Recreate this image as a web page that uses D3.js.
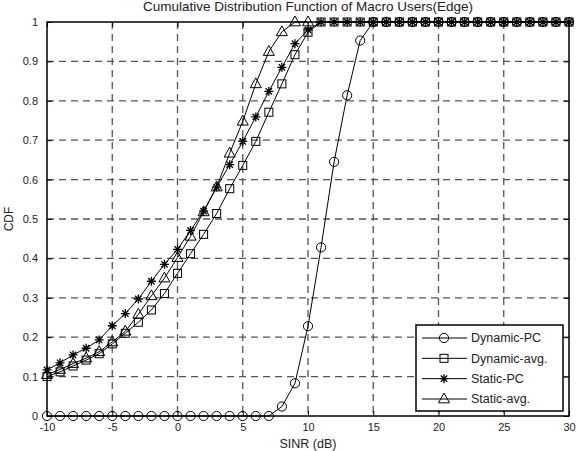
<!DOCTYPE html>
<html><head><meta charset="utf-8">
<script src="https://cdn.jsdelivr.net/npm/d3@7"></script>
<style>body{margin:0;background:#fff}svg{display:block}</style>
</head><body>
<svg id="c" width="578" height="451"></svg>
<script>
// ---- data ----
const sinr = [-10,-9,-8,-7,-6,-5,-4,-3,-2,-1,0,1,2,3,4,5,6,7,8,9,10,11,12,13,14,15,16,17,18,19,20,21,22,23,24,25,26,27,28,29,30];
const dynamicPC = [0,0,0,0,0,0,0,0,0,0,0,0,0,0,0,0,0,0,0.024,0.083,0.228,0.428,0.645,0.814,0.953,1,1,1,1,1,1,1,1,1,1,1,1,1,1,1,1];
const dynamicAvg = [0.100,0.112,0.127,0.142,0.158,0.183,0.210,0.238,0.269,0.311,0.362,0.412,0.461,0.514,0.577,0.636,0.697,0.771,0.843,0.917,0.974,1,1,1,1,1,1,1,1,1,1,1,1,1,1,1,1,1,1,1,1];
const staticPC = [0.117,0.135,0.155,0.172,0.193,0.229,0.260,0.297,0.342,0.385,0.423,0.471,0.520,0.581,0.638,0.697,0.759,0.824,0.885,0.945,0.980,1,1,1,1,1,1,1,1,1,1,1,1,1,1,1,1,1,1,1,1];
const staticAvg = [0.105,0.118,0.133,0.147,0.163,0.188,0.215,0.258,0.305,0.350,0.402,0.456,0.518,0.581,0.667,0.748,0.843,0.925,0.975,1,1];
const seriesNames = ["Dynamic-PC","Dynamic-avg.","Static-PC","Static-avg."];
const markerTypes = ["circle","square","star","triangle"];
const xTicks = [-10,-5,0,5,10,15,20,25,30];
const yTicks = [0,0.1,0.2,0.3,0.4,0.5,0.6,0.7,0.8,0.9,1];
const titleText = "Cumulative Distribution Function of Macro Users(Edge)";
const xLabel = "SINR (dB)";
const yLabel = "CDF";

// ---- layout ----
const L = 47, R = 569, T = 22, B = 416;
const svg = d3.select("#c");
const x = d3.scaleLinear().domain([-10,30]).range([L,R]);
const y = d3.scaleLinear().domain([0,1]).range([B,T]);
const font = "Arial, 'Liberation Sans', sans-serif";

// grid
const g = svg.append("g");
g.selectAll(".gx").data(xTicks.slice(1,-1)).enter().append("line")
  .attr("x1",d=>x(d)).attr("x2",d=>x(d)).attr("y1",T).attr("y2",B)
  .attr("stroke","#555").attr("stroke-width",1.3).attr("stroke-dasharray","7,5");
g.selectAll(".gy").data(yTicks.slice(1,-1)).enter().append("line")
  .attr("y1",d=>y(d)).attr("y2",d=>y(d)).attr("x1",L).attr("x2",R)
  .attr("stroke","#555").attr("stroke-width",1.3).attr("stroke-dasharray","7,5");

// axes via d3 axis (inward ticks)
const xAxB = d3.axisBottom(x).tickValues(xTicks).tickSize(-5).tickPadding(7).tickFormat(d=>String(d));
const xAxT = d3.axisTop(x).tickValues(xTicks).tickSize(-5).tickFormat("");
const yAxL = d3.axisLeft(y).tickValues(yTicks).tickSize(-5).tickPadding(9).tickFormat(d=>String(d));
const yAxR = d3.axisRight(y).tickValues(yTicks).tickSize(-5).tickFormat("");
function styleAx(sel){
  sel.select(".domain").remove();
  sel.selectAll(".tick line").attr("stroke","#000").attr("stroke-width",1);
  sel.selectAll(".tick text").attr("fill","#222").style("font-family",font).style("font-size","11px");
}
svg.append("g").attr("transform",`translate(0,${B})`).call(xAxB).call(styleAx);
svg.append("g").attr("transform",`translate(0,${T})`).call(xAxT).call(styleAx);
svg.append("g").attr("transform",`translate(${L},0)`).call(yAxL).call(styleAx);
svg.append("g").attr("transform",`translate(${R},0)`).call(yAxR).call(styleAx);

// box
svg.append("rect").attr("x",L).attr("y",T).attr("width",R-L).attr("height",B-T)
  .attr("fill","none").attr("stroke","#000").attr("stroke-width",1.5);

// markers
function drawMarker(sel, type){
  if(type==="circle"){
    sel.append("circle").attr("r",4.6).attr("fill","none").attr("stroke","#000").attr("stroke-width",1);
  } else if(type==="square"){
    sel.append("rect").attr("x",-4).attr("y",-4).attr("width",8).attr("height",8)
      .attr("fill","none").attr("stroke","#000").attr("stroke-width",1);
  } else if(type==="triangle"){
    sel.append("path").attr("d","M0,-6L5.5,3.8L-5.5,3.8Z").attr("fill","none").attr("stroke","#000").attr("stroke-width",1);
  } else {
    const s=4.5, d=3.2;
    sel.append("path").attr("d",`M${-s},0H${s}M0,${-s}V${s}M${-d},${-d}L${d},${d}M${-d},${d}L${d},${-d}`)
      .attr("fill","none").attr("stroke","#000").attr("stroke-width",1.3);
  }
}

const allSeries = [dynamicPC, dynamicAvg, staticPC, staticAvg];
const line = d3.line().x(d=>x(d[0])).y(d=>y(d[1]));
allSeries.forEach((vals,i)=>{
  const pts = vals.map((v,j)=>[sinr[j],v]);
  svg.append("path").datum(pts).attr("d",line).attr("fill","none").attr("stroke","#000").attr("stroke-width",1);
  svg.append("g").selectAll("g").data(pts).enter().append("g")
    .attr("transform",d=>`translate(${x(d[0])},${y(d[1])})`)
    .each(function(){ drawMarker(d3.select(this), markerTypes[i]); });
});

// legend
const lg = svg.append("g");
lg.append("rect").attr("x",416).attr("y",325).attr("width",147).attr("height",86)
  .attr("fill","#fff").attr("stroke","#000").attr("stroke-width",1.5);
const ly = d3.scalePoint().domain(seriesNames).range([338,399]);
seriesNames.forEach((n,i)=>{
  const e = lg.append("g").attr("transform",`translate(0,${ly(n)})`);
  e.append("line").attr("x1",422).attr("x2",467).attr("stroke","#000").attr("stroke-width",1);
  drawMarker(e.append("g").attr("transform","translate(444,0)"), markerTypes[i]);
  e.append("text").attr("x",471).attr("y",0).attr("dy","0.35em").text(n)
    .attr("fill","#222").style("font-family",font).style("font-size","12.5px");
});

// titles
svg.append("text").attr("x",(L+R)/2).attr("y",11).attr("text-anchor","middle").text(titleText)
  .attr("fill","#222").style("font-family",font).style("font-size","13.5px");
svg.append("text").attr("x",(L+R)/2).attr("y",448).attr("text-anchor","middle").text(xLabel)
  .attr("fill","#222").style("font-family",font).style("font-size","12.5px");
svg.append("text").attr("transform",`translate(13,${(T+B)/2}) rotate(-90)`).attr("text-anchor","middle").text(yLabel)
  .attr("fill","#222").style("font-family",font).style("font-size","12px");
</script>
</body></html>
